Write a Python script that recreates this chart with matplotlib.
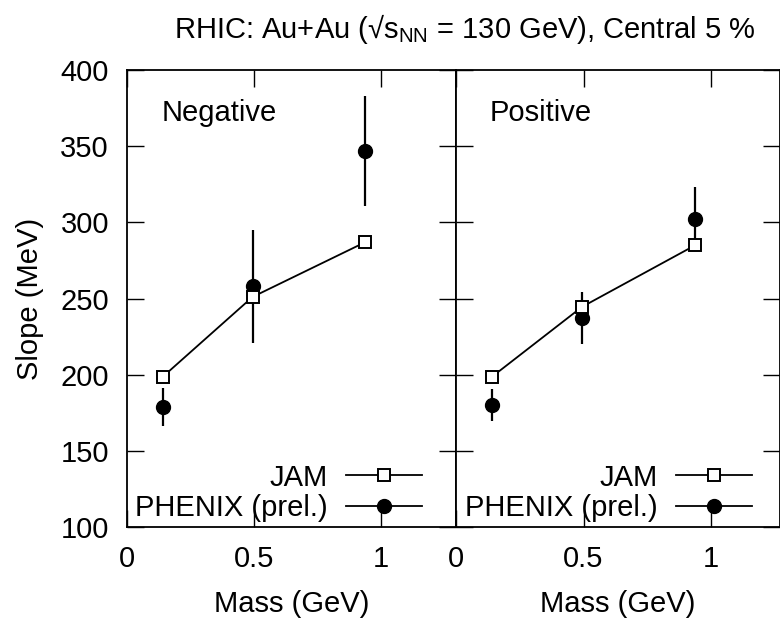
import matplotlib
matplotlib.use("Agg")
import matplotlib.pyplot as plt
from matplotlib.lines import Line2D

plt.rcParams['font.family'] = ['Liberation Sans', 'DejaVu Sans']
plt.rcParams['mathtext.fontset'] = 'custom'
plt.rcParams['mathtext.rm'] = 'Liberation Sans'

# Data
mass = [0.14, 0.494, 0.938]
jam_neg = [198.5, 251, 287]
phenix_neg = [179, 258, 347]
phenix_neg_err = [12.5, 37, 36]
jam_pos = [198.5, 244.5, 285]
phenix_pos = [180, 237, 302]
phenix_pos_err = [10.5, 17, 21]
panel_labels = ["Negative", "Positive"]
yticks = [100, 150, 200, 250, 300, 350, 400]
xticks = [0, 0.5, 1]
xtick_labels = ["0", "0.5", "1"]

FS = 21
W, H = 780, 619
fig = plt.figure(figsize=(W / 100, H / 100), dpi=100)

def rect(x0, y0, x1, y1):
    return [x0 / W, 1 - y1 / H, (x1 - x0) / W, (y1 - y0) / H]

ax1 = fig.add_axes(rect(127, 70, 456, 527))
ax2 = fig.add_axes(rect(456, 70, 780, 527))

datasets = [(ax1, jam_neg, phenix_neg, phenix_neg_err, 1.295, 0.897),
            (ax2, jam_pos, phenix_pos, phenix_pos_err, 1.27, 0.914)]

for i, (ax, jam, ph, pherr, xmax, legx) in enumerate(datasets):
    ax.plot(mass, jam, color='black', lw=1.3, marker='s', ms=9,
            mfc='white', mec='black', mew=1.4, zorder=3)
    ax.errorbar(mass, ph, yerr=pherr, fmt='o', color='black', ms=10,
                elinewidth=1.6, capsize=0, zorder=2)
    ax.set_xlim(0, xmax)
    ax.set_ylim(100, 400)
    ax.set_yticks(yticks)
    ax.set_xticks(xticks)
    ax.set_xticklabels(xtick_labels)
    ax.tick_params(direction='in', length=12, width=1.0, top=True, right=True,
                   labelsize=FS)
    ax.tick_params(axis='y', pad=13)
    ax.tick_params(axis='x', pad=13)
    for s in ax.spines.values():
        s.set_linewidth(1.3)
    ax.set_xlabel("Mass (GeV)", fontsize=FS, labelpad=12)
    ax.text(0.105, 0.905, panel_labels[i], transform=ax.transAxes,
            fontsize=FS, ha='left', va='center')
    handles = [Line2D([], [], color='black', lw=1.3, marker='s', ms=9,
                      mfc='white', mec='black', mew=1.4),
               Line2D([], [], color='black', lw=1.3, marker='o', ms=10)]
    ax.legend(handles, ["JAM", "PHENIX (prel.)"], loc='lower right',
              bbox_to_anchor=(legx, 0.01),
              markerfirst=False, frameon=False, fontsize=FS,
              handlelength=2.6, handletextpad=0.65, labelspacing=0.1,
              borderaxespad=0.0, borderpad=0.0)

ax1.set_ylabel("Slope (MeV)", fontsize=FS, labelpad=12)
ax2.tick_params(axis='y', labelleft=False)

fig.text(465 / W, 1 - 29 / H,
         r"RHIC: Au+Au (√s$_\mathregular{NN}$ = 130 GeV), Central 5 %",
         fontsize=FS, ha='center', va='center')

fig.savefig("out.png", dpi=100)
